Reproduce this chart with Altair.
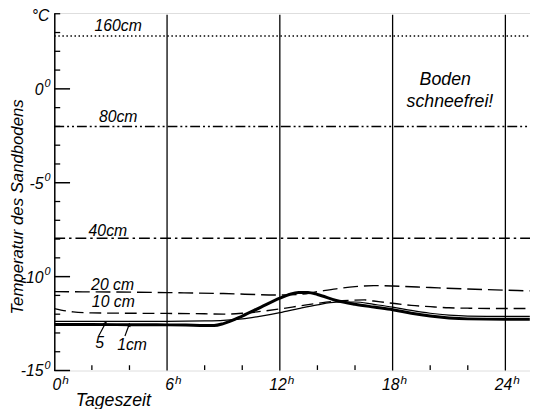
import altair as alt
import pandas as pd

# ---------------- data ----------------
h_1cm = [0, 2, 4, 6, 7, 8, 8.5, 9, 10, 11, 12, 12.5, 13, 13.5, 14, 15, 16, 17, 18, 19, 20, 21, 22, 24, 25.3]
t_1cm = [-12.55, -12.55, -12.56, -12.57, -12.58, -12.6, -12.6, -12.5, -12.1, -11.62, -11.15, -10.95, -10.84,
         -10.85, -10.95, -11.27, -11.47, -11.62, -11.76, -11.95, -12.1, -12.2, -12.25, -12.27, -12.27]

h_5cm = [0, 2, 4, 6, 8, 9, 10, 11, 12, 13, 14, 15, 16, 17, 18, 19, 20, 21, 22, 24, 25.3]
t_5cm = [-12.38, -12.38, -12.38, -12.38, -12.36, -12.33, -12.25, -12.1, -11.92, -11.7, -11.5, -11.36, -11.35,
         -11.48, -11.62, -11.8, -11.95, -12.05, -12.1, -12.12, -12.12]

h_10cm = [0, 1, 2, 4, 6, 8, 9, 10, 11, 12, 13, 14, 15, 16, 16.5, 17, 18, 19, 20, 21, 22, 24, 25.3]
t_10cm = [-11.7, -11.88, -11.93, -11.95, -11.96, -11.98, -12.0, -11.95, -11.85, -11.72, -11.57, -11.42, -11.3,
          -11.25, -11.24, -11.3, -11.42, -11.53, -11.6, -11.66, -11.68, -11.7, -11.7]

h_20cm = [0, 6, 9, 12, 13, 14, 15, 16, 17, 18, 20, 22, 24, 25.3]
t_20cm = [-10.8, -10.85, -10.9, -10.98, -10.95, -10.8, -10.65, -10.53, -10.48, -10.5, -10.58, -10.66, -10.72, -10.76]

ref_depths = ["160cm", "80cm", "40cm"]
ref_temps = [2.81, -2.0, -7.95]

grid_hours = [6, 12, 18, 24]
minor_hours = [2, 4, 8, 10, 14, 16, 20, 22]
x_tick_labels = [0, 6, 12, 18, 24]
y_tick_labels = [0, -5, -10, -15]
y_minor = [4, 3, 2, 1, -1, -2, -3, -4, -6, -7, -8, -9, -11, -12, -13, -14]

label_text = ["160cm", "80cm", "40cm", "20 cm", "10 cm", "5", "1cm"]
label_h = [3.4, 3.4, 2.85, 3.1, 3.14, 2.41, 4.14]
label_t = [3.32, -1.52, -7.6, -10.47, -11.36, -13.53, -13.63]

note_text = ["Boden", "schneefrei!"]
note_h = [20.8, 21.05]
note_t = [0.47, -0.68]

arrow_h = [2.36, 3.76]
arrow_t = [-13.16, -13.16]
arrow_h2 = [2.73, 3.98]
arrow_t2 = [-12.47, -12.56]
arrow_angle = [30, 20]

XMAX = 25.31
YMIN, YMAX = -15, 4.04
FONT = "Liberation Sans"

xs = alt.Scale(domain=[0, XMAX], nice=False, zero=False)
ys = alt.Scale(domain=[YMIN, YMAX], nice=False, zero=False)

y_axis = alt.Axis(values=y_tick_labels, labels=False, ticks=False, grid=False,
                  domainColor="black", domainWidth=1.5, title=None)


def X(f="h"):
    return alt.X(f"{f}:Q", scale=xs, axis=None)


def Y(f="t"):
    return alt.Y(f"{f}:Q", scale=ys, axis=y_axis)


def line(hs, ts, **kw):
    return alt.Chart(pd.DataFrame({"h": hs, "t": ts})).mark_line(
        color="black", interpolate="monotone", clip=True, **kw).encode(x=X(), y=Y())


def txt(df, size=16, **kw):
    return alt.Chart(df).mark_text(font=FONT, fontStyle="italic", fontSize=size, color="black", **kw)


# grid verticals
grid = alt.Chart(pd.DataFrame({"h": grid_hours, "t": [3.95] * 4, "t2": [-15] * 4})).mark_rule(
    color="black", strokeWidth=1.3).encode(x=X(), y=Y(), y2="t2:Q")

minor_x = alt.Chart(pd.DataFrame({"h": minor_hours, "t": [-14.72] * 8, "t2": [-14.97] * 8})).mark_rule(
    color="black", strokeWidth=1.3).encode(x=X(), y=Y(), y2="t2:Q")

ymin_ticks = alt.Chart(pd.DataFrame({"t": y_minor})).mark_rule(color="black", strokeWidth=1.3).encode(
    y=Y(), x=alt.value(0), x2=alt.value(6))
ymaj_ticks = alt.Chart(pd.DataFrame({"t": y_tick_labels})).mark_rule(color="black", strokeWidth=1.5).encode(
    y=Y(), x=alt.value(0), x2=alt.value(16))

refdf = pd.DataFrame({"t": ref_temps, "d": ref_depths})
dashes = {"160cm": [1.5, 2.6], "80cm": [10, 3, 2, 3, 2, 3], "40cm": [11, 4, 2.5, 4]}
refs = [alt.Chart(refdf[refdf.d == d]).mark_rule(color="black", strokeWidth=1.5, strokeDash=dashes[d]).encode(
    y=Y(), x=alt.value(0), x2=alt.value(483)) for d in ref_depths]

l20 = line(h_20cm, t_20cm, strokeWidth=1.4, strokeDash=[15, 6])
l10 = line(h_10cm, t_10cm, strokeWidth=1.4, strokeDash=[12, 6])
l5 = line(h_5cm, t_5cm, strokeWidth=1.2)
l1 = line(h_1cm, t_1cm, strokeWidth=3)

labels = txt(pd.DataFrame({"h": label_h, "t": label_t, "s": label_text}), baseline="middle",
             align="center").encode(x=X(), y=Y(), text="s:N")

notes = txt(pd.DataFrame({"h": note_h, "t": note_t, "s": note_text}), size=18, baseline="middle",
            align="center").encode(x=X(), y=Y(), text="s:N")

adf = pd.DataFrame({"h": arrow_h, "t": arrow_t, "h2": arrow_h2, "t2": arrow_t2, "a": arrow_angle})
arrows = alt.Chart(adf).mark_rule(color="black", strokeWidth=1.2).encode(x=X(), y=Y(), x2="h2:Q", y2="t2:Q")
heads = alt.Chart(adf).mark_point(shape="triangle-up", filled=True, color="black", size=22, opacity=1).encode(
    x=X("h2"), y=Y("t2"), angle=alt.Angle("a:Q", scale=None))

# x tick labels: digits + superscript h
xl = pd.DataFrame({"h": x_tick_labels, "t": [-15] * 5, "s": [str(v) for v in x_tick_labels]})
xdig = txt(xl, size=16, align="right", baseline="alphabetic", dx=7, dy=20).encode(x=X(), y=Y(), text="s:N")
xsup = txt(xl.assign(s="h"), size=12, align="left", baseline="alphabetic", dx=8, dy=14).encode(
    x=X(), y=Y(), text="s:N")

# y tick labels: digits + superscript 0
yl = pd.DataFrame({"t": y_tick_labels, "s": [str(v) for v in y_tick_labels]})
ydig = txt(yl, size=16, align="right", baseline="middle", dy=1).encode(
    x=alt.value(-11), y=Y(), text="s:N")
ysup = txt(yl.assign(s="0"), size=11, align="left", baseline="middle", dy=-5).encode(
    x=alt.value(-10), y=Y(), text="s:N")

unit = txt(pd.DataFrame({"h": [-0.73], "t": [3.88], "s": ["°C"]}), baseline="middle",
           align="center").encode(x=X(), y=Y(), text="s:N")

ytitle = txt(pd.DataFrame({"h": [-1.93], "t": [-6.29], "s": ["Temperatur des Sandbodens"]}), size=17,
             baseline="middle", align="center", angle=270).encode(x=X(), y=Y(), text="s:N")

xtitle = txt(pd.DataFrame({"h": [3.14], "t": [-16.62], "s": ["Tageszeit"]}), size=18, baseline="middle",
             align="center").encode(x=X(), y=Y(), text="s:N")

chart = alt.layer(
    grid, minor_x, ymin_ticks, ymaj_ticks, *refs, l20, l10, l5, l1, labels, notes, arrows, heads,
    xdig, xsup, ydig, ysup, unit, ytitle, xtitle
).properties(
    width=483, height=363, autosize="none",
    padding={"left": 47, "top": 2, "right": 0, "bottom": 36},
).configure_view(stroke=None).configure(background="white")

chart.save("out.html", embed_options={"renderer": "svg", "actions": False})
